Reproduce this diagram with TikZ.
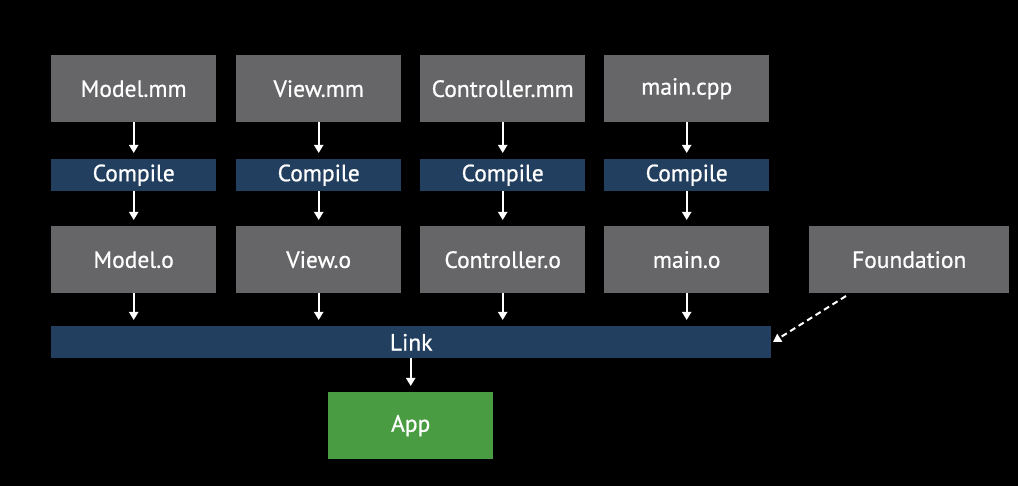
\documentclass[tikz,border=0pt]{standalone}
\usepackage{fontspec}
\setmainfont{PT Sans}
\newfontfamily\semibf[FakeBold=0.7]{PT Sans}
\usetikzlibrary{arrows.meta}
\definecolor{boxgrey}{HTML}{666567}
\definecolor{barblue}{HTML}{233F5F}
\definecolor{appgreen}{HTML}{4A9C42}
\begin{document}
\begin{tikzpicture}[x=1pt,y=-1pt,
  base/.style={anchor=north west, inner sep=0pt, text=white, font=\semibf\fontsize{23.5}{26}\selectfont},
  filebox/.style={base, fill=boxgrey, minimum width=165pt, minimum height=67pt},
  bar/.style={base, fill=barblue, minimum width=165pt, minimum height=32pt},
  flow/.style={white, line width=2pt, -{Triangle[width=9pt,length=8pt]}, shorten >=6pt},
]
\fill[black] (0,0) rectangle (1018,486);
\useasboundingbox (0,0) rectangle (1018,486);
\foreach \n/\x/\src/\obj in {m/51/Model.mm/Model.o, v/236/View.mm/View.o, c/420/Controller.mm/Controller.o, p/604/main.cpp/main.o}{
  \node[filebox] (\n src) at (\x,55) {\src};
  \node[bar] (\n cmp) at (\x,159) {Compile};
  \node[filebox] (\n obj) at (\x,226) {\obj};
}
\node[filebox, minimum width=200pt] (found) at (809,226) {Foundation};
\node[bar, minimum width=720pt] (link) at (51,326) {Link};
\node[filebox, fill=appgreen] (app) at (328,392) {App};
\foreach \n in {m,v,c,p}{
  \draw[flow] (\n src.south) -- (\n cmp.north);
  \draw[flow] (\n cmp.south) -- (\n obj.north);
  \draw[flow] (\n obj.south) -- (\n obj.south |- link.north);
}
\draw[flow] (link.south -| app.north) -- (app.north);
\coordinate (fstart) at (846,296);
\coordinate (fend) at (773,342);
\draw[flow, dash pattern=on 6pt off 4pt, shorten >=0pt] (fstart) -- (fend);
\end{tikzpicture}
\end{document}
